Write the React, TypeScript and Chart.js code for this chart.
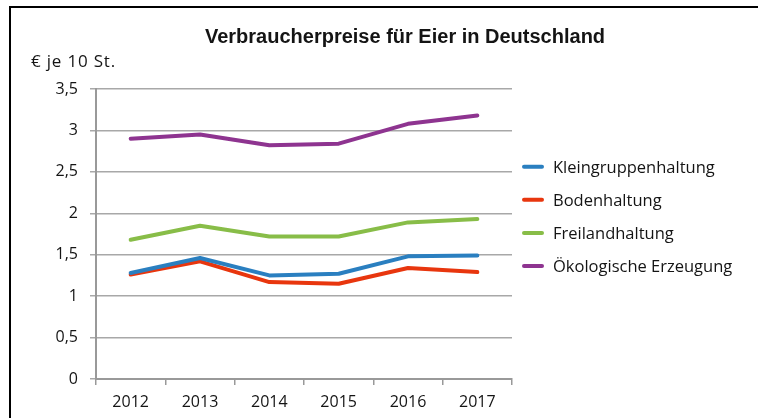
import React, { useEffect, useRef } from "react";
import { Chart, registerables } from "chart.js";

Chart.register(...registerables);

const TITLE = "Verbraucherpreise für Eier in Deutschland";
const UNIT_LABEL = "€ je 10 St.";
const years = ["2012", "2013", "2014", "2015", "2016", "2017"];
const yTickValues = [0, 0.5, 1, 1.5, 2, 2.5, 3, 3.5];
const yTickLabels = ["0", "0,5", "1", "1,5", "2", "2,5", "3", "3,5"];

const seriesNames = ["Kleingruppenhaltung", "Bodenhaltung", "Freilandhaltung", "Ökologische Erzeugung"];
const kleingruppe = [1.28, 1.46, 1.25, 1.27, 1.48, 1.49];
const boden = [1.26, 1.42, 1.17, 1.15, 1.34, 1.29];
const freiland = [1.68, 1.85, 1.72, 1.72, 1.89, 1.93];
const oeko = [2.9, 2.95, 2.82, 2.84, 3.08, 3.18];
const seriesColors = ["#2A7FC0", "#E8360E", "#88BD48", "#8E3490"];

const TEXT_COLOR = "#141414";
const FONT = '"Open Sans", "Noto Sans", sans-serif';

const decorPlugin = {
  id: "decor",
  afterDraw(chart: any) {
    const ctx = chart.ctx as CanvasRenderingContext2D;
    ctx.save();
    // frame
    ctx.fillStyle = "#000";
    ctx.fillRect(9, 6, 749, 2);
    ctx.fillRect(9, 6, 2, 412);
    // title
    ctx.fillStyle = TEXT_COLOR;
    ctx.font = 'bold 20px "Liberation Sans", Arial, sans-serif';
    ctx.textAlign = "center";
    ctx.textBaseline = "alphabetic";
    ctx.fillText(TITLE, 405, 43);
    // unit label
    ctx.font = "17px " + FONT;
    ctx.textAlign = "left";
    (ctx as any).letterSpacing = "0.8px";
    ctx.fillText(UNIT_LABEL, 31, 67);
    (ctx as any).letterSpacing = "0px";
    // legend
    const datasets = chart.data.datasets;
    datasets.forEach((ds: any, i: number) => {
      const y = 166.7 + i * 33.1;
      ctx.strokeStyle = ds.borderColor;
      ctx.lineWidth = 4;
      ctx.lineCap = "round";
      ctx.beginPath();
      ctx.moveTo(524, y);
      ctx.lineTo(542, y);
      ctx.stroke();
      ctx.fillStyle = TEXT_COLOR;
      ctx.font = "16.5px " + FONT;
      ctx.textAlign = "left";
      ctx.textBaseline = "alphabetic";
      ctx.fillText(ds.label, 553, y + 6.3);
    });
    ctx.restore();
  },
};

export default function App() {
  const ref = useRef<HTMLCanvasElement | null>(null);
  useEffect(() => {
    if (!ref.current) return;
    const values = [kleingruppe, boden, freiland, oeko];
    const chart = new Chart(ref.current, {
      type: "line",
      data: {
        labels: years,
        datasets: values.map((v, i) => ({
          label: seriesNames[i],
          data: v,
          borderColor: seriesColors[i],
          backgroundColor: seriesColors[i],
          borderWidth: 4,
          pointRadius: 0,
          pointHoverRadius: 0,
          tension: 0,
          borderCapStyle: "round" as const,
          borderJoinStyle: "round" as const,
        })),
      },
      options: {
        animation: false,
        responsive: false,
        devicePixelRatio: 1,
        layout: { padding: { left: 0, top: 89, right: 246, bottom: 0 } },
        plugins: {
          legend: { display: false },
          title: { display: false },
          tooltip: { enabled: false },
        },
        scales: {
          x: {
            type: "category",
            offset: true,
            afterFit(scale: any) {
              scale.height = 39;
            },
            grid: {
              offset: true,
              drawOnChartArea: false,
              drawTicks: true,
              tickLength: 6,
              color: "#999999",
              lineWidth: 1.5,
            },
            border: { color: "#999999", width: 2 },
            ticks: {
              color: TEXT_COLOR,
              font: { family: FONT, size: 16 },
              padding: 8,
              maxRotation: 0,
            },
          },
          y: {
            min: 0,
            max: 3.5,
            afterFit(scale: any) {
              scale.width = 96;
            },
            afterBuildTicks(scale: any) {
              scale.ticks = yTickValues.map((v) => ({ value: v }));
            },
            grid: {
              color: "#a8a8a8",
              lineWidth: 1.5,
              tickLength: 6,
            },
            border: { color: "#999999", width: 2 },
            ticks: {
              color: TEXT_COLOR,
              font: { family: FONT, size: 16 },
              padding: 12,
              callback: (v: any) => yTickLabels[yTickValues.indexOf(Number(v))],
            },
          },
        },
      },
      plugins: [decorPlugin],
    });
    return () => chart.destroy();
  }, []);
  return (
    <div style={{ position: "absolute", left: 0, top: 0, width: 758, height: 418, background: "#fff" }}>
      <canvas ref={ref} width={758} height={418} style={{ display: "block" }} />
    </div>
  );
}
